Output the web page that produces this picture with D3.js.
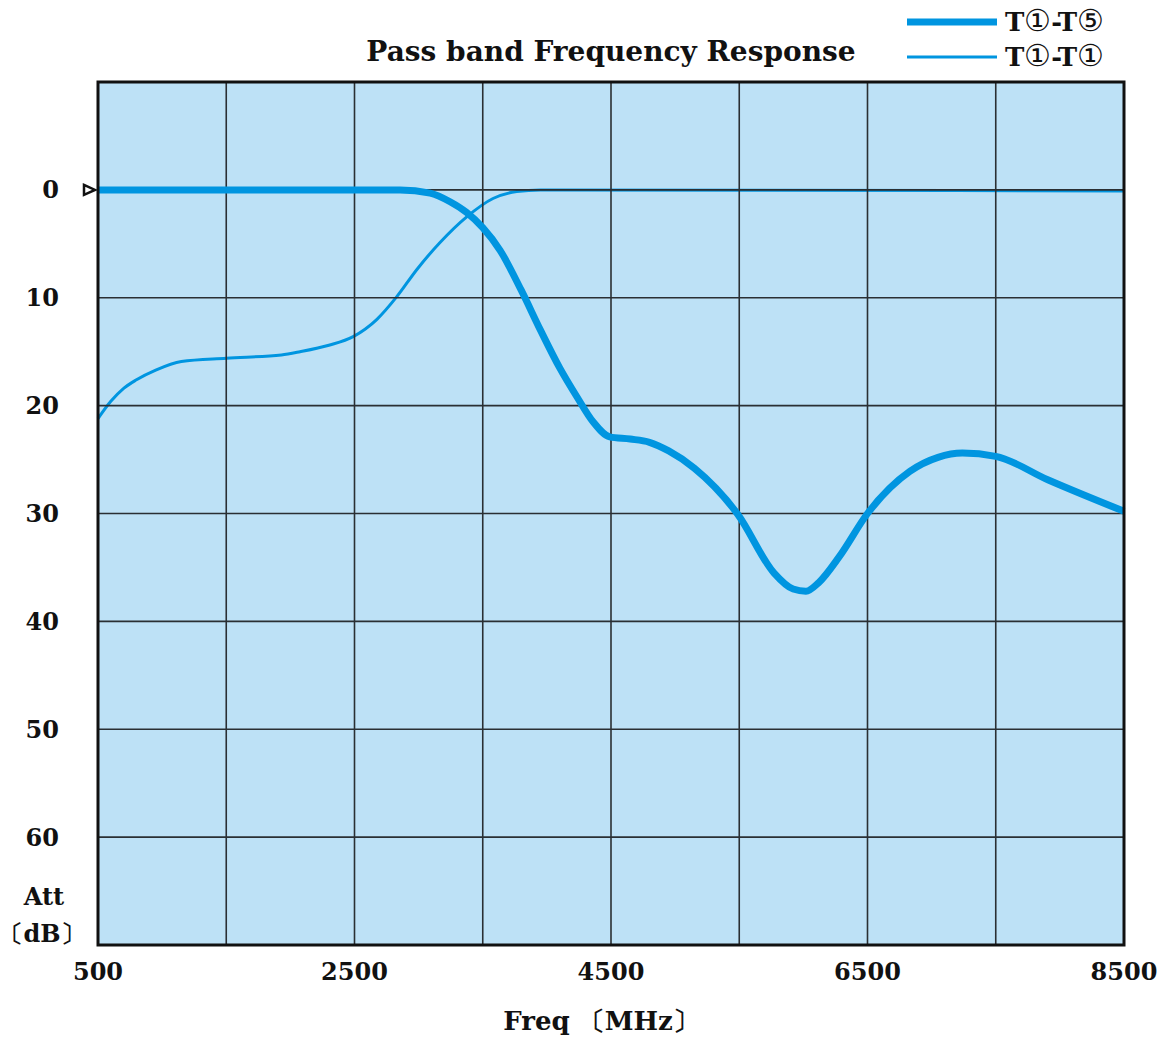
<!DOCTYPE html>
<html>
<head>
<meta charset="utf-8">
<script src="https://cdn.jsdelivr.net/npm/d3@7"></script>
<style>
  body { margin: 0; background: #fff; }
  svg text { font-family: "DejaVu Serif", "Liberation Serif", serif; font-weight: bold; fill: #111; }
</style>
</head>
<body>
<svg width="1164" height="1044"></svg>
<script>
// values (freq in MHz, attenuation in dB)
var freqT5 = [500, 2500, 2855, 3090, 3245, 3375, 3500, 3635, 3800, 3950, 4100, 4235, 4360, 4490, 4650, 4800, 4950, 5150, 5490, 5770, 5920, 6020, 6120, 6280, 6500, 6830, 7050, 7240, 7500, 7910, 8500];
var attT5  = [0, 0, 0, 0.3, 1.1, 2.1, 3.5, 5.6, 9.3, 13, 16.5, 19.2, 21.5, 22.9, 23.1, 23.4, 24.2, 25.8, 30.1, 35.5, 37.0, 37.2, 36.4, 34, 30, 26.1, 24.8, 24.4, 24.7, 26.9, 29.8];
var freqT1 = [500, 600, 700, 800, 950, 1150, 1500, 1930, 2075, 2300, 2490, 2675, 2830, 2985, 3165, 3375, 3580, 3765, 3950, 8500];
var attT1  = [21.2, 19.6, 18.4, 17.6, 16.7, 15.9, 15.6, 15.3, 15.0, 14.4, 13.6, 12.0, 9.9, 7.4, 4.9, 2.5, 0.8, 0.15, 0, 0.1];
var xGrid = [500, 1500, 2500, 3500, 4500, 5500, 6500, 7500, 8500];
var xTickLabels = [500, 2500, 4500, 6500, 8500];
var yGrid = [0, 10, 20, 30, 40, 50, 60];
var legendNames = [["T", "\u2460", "-T", "\u2464"], ["T", "\u2460", "-T", "\u2460"]];

var svg = d3.select("svg");
var plotLeft = 98, plotRight = 1124, plotTop = 82, plotBottom = 945;
var lineColor = "#0095e0";

var x = d3.scaleLinear().domain([500, 8500]).range([plotLeft, plotRight]);
var y = d3.scaleLinear().domain([-10, 70]).range([plotTop, plotBottom]);

// background
svg.append("rect")
	.attr("x", plotLeft).attr("y", plotTop)
	.attr("width", plotRight - plotLeft).attr("height", plotBottom - plotTop)
	.attr("fill", "#bde1f6");

// curves
var line = d3.line()
	.x(function(d) { return x(d[0]); })
	.y(function(d) { return y(d[1]); })
	.curve(d3.curveMonotoneX);

svg.append("path")
	.datum(d3.zip(freqT1, attT1))
	.attr("d", line)
	.attr("fill", "none").attr("stroke", lineColor).attr("stroke-width", 3);

// grid (thin curve sits under the 0 dB line in the reference)
svg.append("g").selectAll("line").data(xGrid).enter().append("line")
	.attr("x1", function(d) { return x(d); }).attr("x2", function(d) { return x(d); })
	.attr("y1", plotTop).attr("y2", plotBottom)
	.attr("stroke", "#2a2f33").attr("stroke-width", 1.6);
svg.append("g").selectAll("line").data(yGrid).enter().append("line")
	.attr("y1", function(d) { return y(d); }).attr("y2", function(d) { return y(d); })
	.attr("x1", plotLeft).attr("x2", plotRight)
	.attr("stroke", "#2a2f33").attr("stroke-width", 1.6);

svg.append("path")
	.datum(d3.zip(freqT5, attT5))
	.attr("d", line)
	.attr("fill", "none").attr("stroke", lineColor).attr("stroke-width", 7);

// border
svg.append("rect")
	.attr("x", plotLeft).attr("y", plotTop)
	.attr("width", plotRight - plotLeft).attr("height", plotBottom - plotTop)
	.attr("fill", "none").attr("stroke", "#111").attr("stroke-width", 3);

// y labels
svg.append("g").selectAll("text").data(yGrid).enter().append("text")
	.attr("x", 59).attr("y", function(d) { return y(d); })
	.attr("dy", "0.35em").attr("text-anchor", "end")
	.attr("font-size", 24)
	.text(function(d) { return d; });

// reference marker at 0 dB
svg.append("path")
	.attr("d", "M" + (plotLeft - 14) + "," + (y(0) - 5) + "L" + (plotLeft - 3) + "," + y(0) + "L" + (plotLeft - 14) + "," + (y(0) + 5) + "Z")
	.attr("fill", "none").attr("stroke", "#111").attr("stroke-width", 2.5);

// x labels
svg.append("g").selectAll("text").data(xTickLabels).enter().append("text")
	.attr("x", function(d) { return x(d); }).attr("y", 980)
	.attr("text-anchor", "middle")
	.attr("font-size", 24)
	.text(function(d) { return d; });

svg.append("text").attr("x", 601).attr("y", 1030).attr("text-anchor", "middle")
	.attr("font-size", 26).text("Freq \u3014MHz\u3015");
svg.append("text").attr("x", 44).attr("y", 905).attr("text-anchor", "middle")
	.attr("font-size", 24).text("Att");
svg.append("text").attr("x", 42).attr("y", 942).attr("text-anchor", "middle")
	.attr("font-size", 24).text("\u3014dB\u3015");

// title
svg.append("text").attr("x", 611).attr("y", 61).attr("text-anchor", "middle")
	.attr("font-size", 28).text("Pass band Frequency Response");

// legend
var legend = svg.append("g").selectAll("g").data(legendNames).enter().append("g")
	.attr("transform", function(d, i) { return "translate(907," + (22 + i * 35) + ")"; });
legend.append("line")
	.attr("x1", 0).attr("x2", 90).attr("y1", 0).attr("y2", 0)
	.attr("stroke", lineColor)
	.attr("stroke-width", function(d, i) { return i === 0 ? 7 : 3; });
legend.append("text")
	.attr("x", 98).attr("dy", "0.35em")
	.attr("font-size", 26)
	.selectAll("tspan").data(function(d) { return d; }).enter().append("tspan")
	.attr("font-size", function(d, i) { return i % 2 === 1 ? 30 : 26; })
	.attr("font-weight", function(d, i) { return i % 2 === 1 ? "normal" : "bold"; })
	.text(function(d) { return d; });
</script>
</body>
</html>
